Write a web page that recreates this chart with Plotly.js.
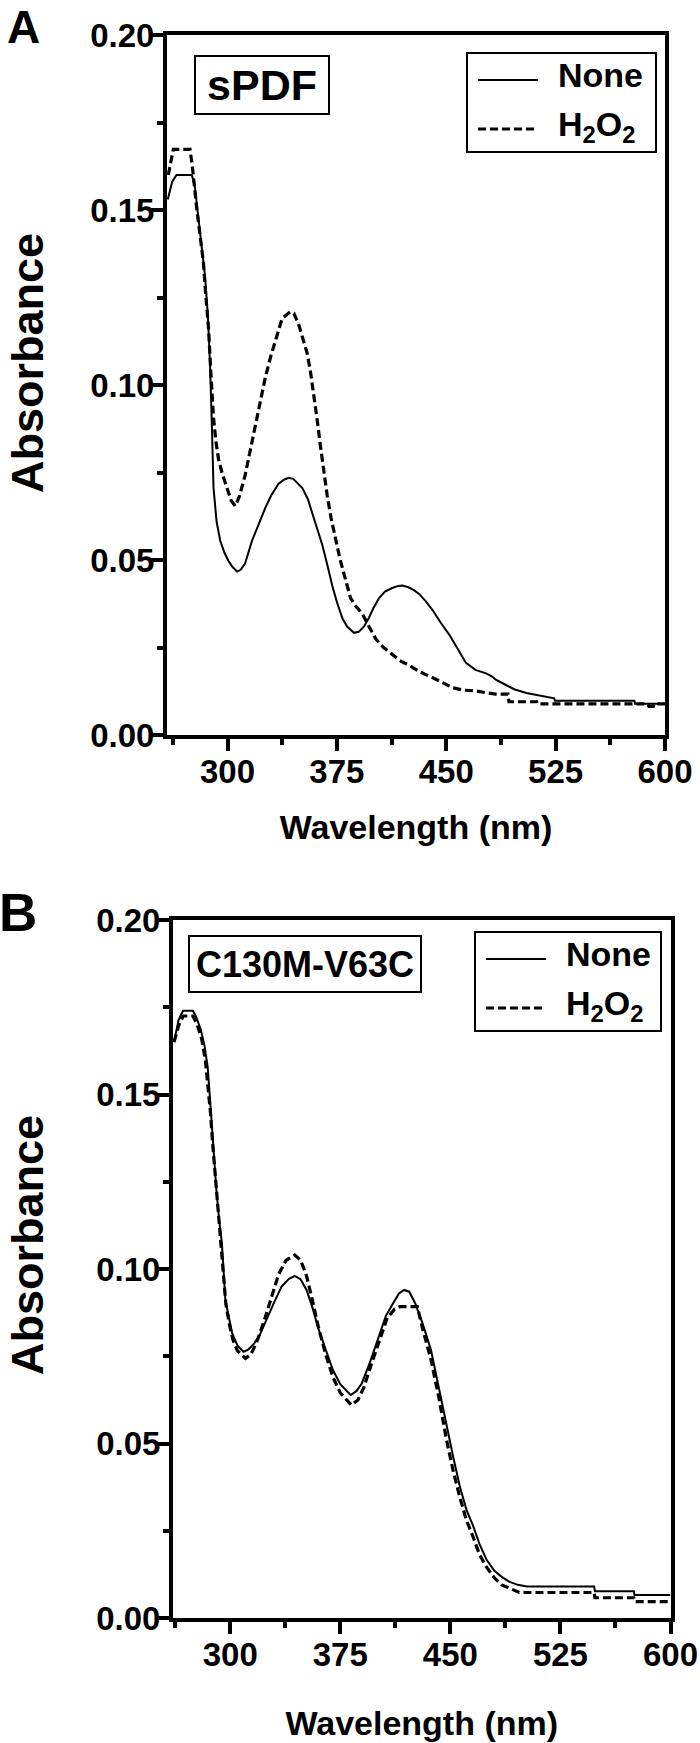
<!DOCTYPE html>
<html>
<head>
<meta charset="utf-8">
<script src="https://cdn.plot.ly/plotly-3.0.1.min.js"></script>
<style>html,body{margin:0;padding:0;background:#fff;}#chart{width:700px;height:1743px;}</style>
</head>
<body>
<div id="chart"></div>
<script>
// ---------- Data ----------
// Panel A: sPDF
const wlA_none = [259, 262, 265, 270, 275.5, 277.5, 280, 282.5, 284.6, 286.5, 288, 289.3, 290.4, 292.5, 295, 298, 300.7, 303.5, 306.5, 309, 312, 316.8, 321, 325.9, 330, 335, 339, 342, 345, 348, 351.2, 355, 358, 361.5, 365, 368.5, 371.8, 375, 378.7, 382, 386.7, 390, 393.6, 397, 400, 403.9, 408, 413, 417, 420, 424, 428, 431.4, 436, 440.6, 446, 452, 458, 463.5, 470, 477.3, 481.5, 484, 490, 497, 505, 512, 518, 524, 524.5, 579, 579.5, 600];
const absA_none = [0.153, 0.158, 0.160, 0.160, 0.160, 0.157, 0.148, 0.139, 0.131, 0.120, 0.106, 0.088, 0.0706, 0.061, 0.0555, 0.052, 0.0497, 0.048, 0.0467, 0.0472, 0.049, 0.0555, 0.060, 0.0649, 0.0685, 0.0718, 0.0730, 0.0735, 0.0732, 0.0720, 0.0706, 0.0675, 0.0637, 0.0590, 0.0543, 0.0485, 0.0427, 0.0380, 0.0334, 0.0310, 0.0292, 0.0295, 0.0310, 0.0335, 0.0362, 0.0391, 0.0410, 0.0420, 0.0426, 0.0427, 0.0422, 0.0413, 0.0403, 0.0382, 0.0357, 0.0322, 0.0287, 0.0245, 0.0206, 0.0186, 0.0176, 0.0167, 0.0158, 0.0145, 0.0130, 0.0120, 0.0114, 0.0108, 0.0105, 0.0098, 0.0098, 0.0089, 0.0089];
const wlA_h2o2 = [259.4, 261, 262.8, 274.3, 276, 279, 281, 283.5, 285, 287, 288.5, 290.4, 292, 293.8, 296.5, 299.6, 302.5, 305.3, 308, 312, 315.5, 319, 322.5, 325.9, 329.5, 332.8, 337.4, 343, 345.5, 348.8, 351.5, 354.6, 357, 359.2, 361.5, 363.8, 366, 368.4, 371, 374.1, 377, 379.8, 382, 384.4, 388, 392.5, 397, 401.6, 407, 413, 418, 424.5, 432, 440.6, 447, 454.4, 462, 470.4, 477, 484, 492.3, 493, 512, 512.5, 588, 589, 592, 592.5, 600];
const absA_h2o2 = [0.160, 0.164, 0.1673, 0.1673, 0.162, 0.150, 0.143, 0.1349, 0.126, 0.1161, 0.104, 0.0906, 0.084, 0.0789, 0.0745, 0.0706, 0.0670, 0.0654, 0.0680, 0.0741, 0.0810, 0.0881, 0.0950, 0.1021, 0.1080, 0.1126, 0.1190, 0.1209, 0.1205, 0.1173, 0.1135, 0.1091, 0.1035, 0.0974, 0.0900, 0.0823, 0.0750, 0.0683, 0.0620, 0.0555, 0.0505, 0.0461, 0.0425, 0.0391, 0.0368, 0.0346, 0.0310, 0.0275, 0.0250, 0.0229, 0.0213, 0.0199, 0.0180, 0.0164, 0.0150, 0.0135, 0.0128, 0.0126, 0.0121, 0.0117, 0.0117, 0.0095, 0.0095, 0.0089, 0.0089, 0.0082, 0.0082, 0.0089, 0.0089];

// Panel B: C130M-V63C
const wlB_none = [261.7, 263, 264.8, 267.8, 274.6, 277, 280, 282.5, 284.6, 286, 287.6, 289, 290.7, 292.5, 294.3, 296.7, 299, 301.3, 305, 309, 312, 316, 320, 325, 330, 335, 340, 344, 348, 352, 356, 360, 365.2, 370, 375, 382, 386, 389.6, 395, 401.8, 406, 411, 415, 418.5, 422, 426, 431, 436.8, 442, 447.4, 452, 456.5, 461, 465.7, 470, 474.8, 480, 485, 490, 496, 502.2, 548, 548.5, 575, 575.5, 600];
const absB_none = [0.165, 0.168, 0.1713, 0.174, 0.174, 0.172, 0.1685, 0.164, 0.158, 0.150, 0.1408, 0.131, 0.1218, 0.114, 0.1074, 0.0911, 0.086, 0.0816, 0.078, 0.0763, 0.0768, 0.0785, 0.081, 0.086, 0.0905, 0.0950, 0.0972, 0.0980, 0.0970, 0.0940, 0.0890, 0.0830, 0.0768, 0.0710, 0.0670, 0.0639, 0.0650, 0.0672, 0.0730, 0.0816, 0.0865, 0.0902, 0.0930, 0.0940, 0.0935, 0.0902, 0.0845, 0.0768, 0.0660, 0.0548, 0.0460, 0.0376, 0.0310, 0.0262, 0.0210, 0.0166, 0.0135, 0.0118, 0.0104, 0.0095, 0.0090, 0.0090, 0.0077, 0.0077, 0.0066, 0.0066];
const wlB_h2o2 = [261.7, 263, 265, 268, 274.6, 277.5, 280.5, 283, 285, 286.5, 288, 289.5, 291, 293, 295, 297, 299.5, 302, 305, 310.4, 314, 318, 323, 328, 333, 338, 343.9, 348, 352, 356, 360, 365, 370, 375, 382.6, 387, 391, 396, 401.8, 407, 412, 415.5, 427.5, 431, 436.8, 442, 447.4, 452, 456.5, 461, 465.7, 470, 474.8, 480, 485, 490, 497, 548, 548.5, 575, 575.5, 600];
const absB_h2o2 = [0.165, 0.167, 0.170, 0.1725, 0.1725, 0.170, 0.166, 0.160, 0.152, 0.145, 0.136, 0.128, 0.119, 0.110, 0.100, 0.090, 0.084, 0.0795, 0.0765, 0.0744, 0.0755, 0.079, 0.085, 0.092, 0.0985, 0.1025, 0.1040, 0.1025, 0.0980, 0.0910, 0.0835, 0.0755, 0.0690, 0.0645, 0.0610, 0.0625, 0.0660, 0.0725, 0.0800, 0.0860, 0.0885, 0.0892, 0.0892, 0.0830, 0.0740, 0.0635, 0.0510, 0.0420, 0.0345, 0.0280, 0.0230, 0.0180, 0.0145, 0.0115, 0.0095, 0.0085, 0.0073, 0.0073, 0.0058, 0.0058, 0.0047, 0.0047];

const seriesNames = ['None', 'H<sub>2</sub>O<sub>2</sub>'];
const panelLabels = ['A', 'B'];
const sampleLabels = ['sPDF', 'C130M-V63C'];
const xTitle = 'Wavelength (nm)';
const yTitle = 'Absorbance';

// ---------- Styling / layout ----------
const W = 700, H = 1743;
const px = v => v / W;
const py = v => 1 - v / H;
const FONT = 'Liberation Sans, Arial, Helvetica, sans-serif';
const tickFont = {family: FONT, size: 33, color: '#000', weight: 'bold'};
const titleFont = {family: FONT, size: 34, color: '#000', weight: 'bold'};

function axisCommon(extra) {
  return Object.assign({
    showline: true, linewidth: 4, linecolor: '#000', mirror: true,
    ticks: 'outside', ticklen: 12, tickwidth: 4, tickcolor: '#000',
    showgrid: false, zeroline: false, tickfont: tickFont, fixedrange: true
  }, extra);
}
const minorX = {dtick: 37.5, tick0: 300, ticks: 'outside', ticklen: 6, tickwidth: 4, tickcolor: '#000', showgrid: false};
const minorY = {dtick: 0.025, tick0: 0, ticks: 'outside', ticklen: 6, tickwidth: 4, tickcolor: '#000', showgrid: false};

const solid = {color: '#000', width: 2};
const dashed = {color: '#000', width: 3.2, dash: '8px,4px'};

const traces = [
  {x: wlA_none, y: absA_none, xaxis: 'x', yaxis: 'y', mode: 'lines', name: seriesNames[0], line: solid},
  {x: wlA_h2o2, y: absA_h2o2, xaxis: 'x', yaxis: 'y', mode: 'lines', name: seriesNames[1], line: dashed},
  {x: wlB_none, y: absB_none, xaxis: 'x2', yaxis: 'y2', mode: 'lines', name: seriesNames[0], line: solid},
  {x: wlB_h2o2, y: absB_h2o2, xaxis: 'x2', yaxis: 'y2', mode: 'lines', name: seriesNames[1], line: dashed}
];

function ann(text, x, y, size, extra) {
  return Object.assign({
    text: text, xref: 'paper', yref: 'paper', x: px(x), y: py(y),
    xanchor: 'center', yanchor: 'middle', showarrow: false,
    font: {family: FONT, size: size, color: '#000', weight: 'bold'}
  }, extra || {});
}

// legend drawn per panel: box at (bx, by) top-left, size bw x bh
function legendParts(bx, by, bw, bh) {
  const shapes = [
    {type: 'rect', xref: 'paper', yref: 'paper', x0: px(bx), x1: px(bx + bw), y0: py(by), y1: py(by + bh),
     line: {color: '#000', width: 2}, fillcolor: '#fff', layer: 'above'},
    {type: 'line', xref: 'paper', yref: 'paper', x0: px(bx + 11), x1: px(bx + 71), y0: py(by + 27), y1: py(by + 27),
     line: solid, layer: 'above'},
    {type: 'line', xref: 'paper', yref: 'paper', x0: px(bx + 11), x1: px(bx + 71), y0: py(by + 76), y1: py(by + 76),
     line: dashed, layer: 'above'}
  ];
  const anns = [
    ann(seriesNames[0], bx + 89, by + 22, 34, {xanchor: 'left'}),
    ann(seriesNames[1], bx + 89, by + 73, 34, {xanchor: 'left'})
  ];
  return {shapes, anns};
}
const legA = legendParts(467, 53, 189, 99);
const legB = legendParts(475, 932, 186, 99);

const layout = {
  width: W, height: H,
  margin: {l: 0, r: 0, t: 0, b: 0},
  paper_bgcolor: '#fff', plot_bgcolor: '#fff',
  font: {family: FONT, size: 33, color: '#000'},
  showlegend: false,
  xaxis: axisCommon({domain: [px(167), px(665)], range: [258.5, 600], anchor: 'y', tick0: 300, dtick: 75,
    ticklabelstandoff: -8, minor: minorX, title: {text: xTitle, font: titleFont, standoff: 28}}),
  yaxis: axisCommon({domain: [py(735), py(35)], range: [0, 0.2], anchor: 'x', tick0: 0, dtick: 0.05, tickformat: '.2f',
    ticklabelstandoff: -10, minor: minorY}),
  xaxis2: axisCommon({domain: [px(173), px(670.5)], range: [261, 600], anchor: 'y2', tick0: 300, dtick: 75,
    ticklabelstandoff: -8, minor: minorX, title: {text: xTitle, font: titleFont, standoff: 41}}),
  yaxis2: axisCommon({domain: [py(1618), py(920)], range: [0, 0.2], anchor: 'x2', tick0: 0, dtick: 0.05, tickformat: '.2f',
    ticklabelstandoff: -10, minor: minorY}),
  shapes: legA.shapes.concat(legB.shapes),
  annotations: [
    ann(panelLabels[0], 23, 27, 46),
    ann(panelLabels[1], 18, 912, 53),
    ann(yTitle, 27, 363, 45, {textangle: -90}),
    ann(yTitle, 27, 1245, 45, {textangle: -90}),
    ann(sampleLabels[0], 262, 85.5, 43, {width: 132, height: 56, borderwidth: 2, borderpad: 0, bordercolor: '#000', bgcolor: '#fff'}),
    ann(sampleLabels[1], 305, 964, 36, {width: 230, height: 54, borderwidth: 2, borderpad: 0, bordercolor: '#000', bgcolor: '#fff'})
  ].concat(legA.anns, legB.anns)
};

Plotly.newPlot('chart', traces, layout, {displayModeBar: false, staticPlot: true});
</script>
</body>
</html>
